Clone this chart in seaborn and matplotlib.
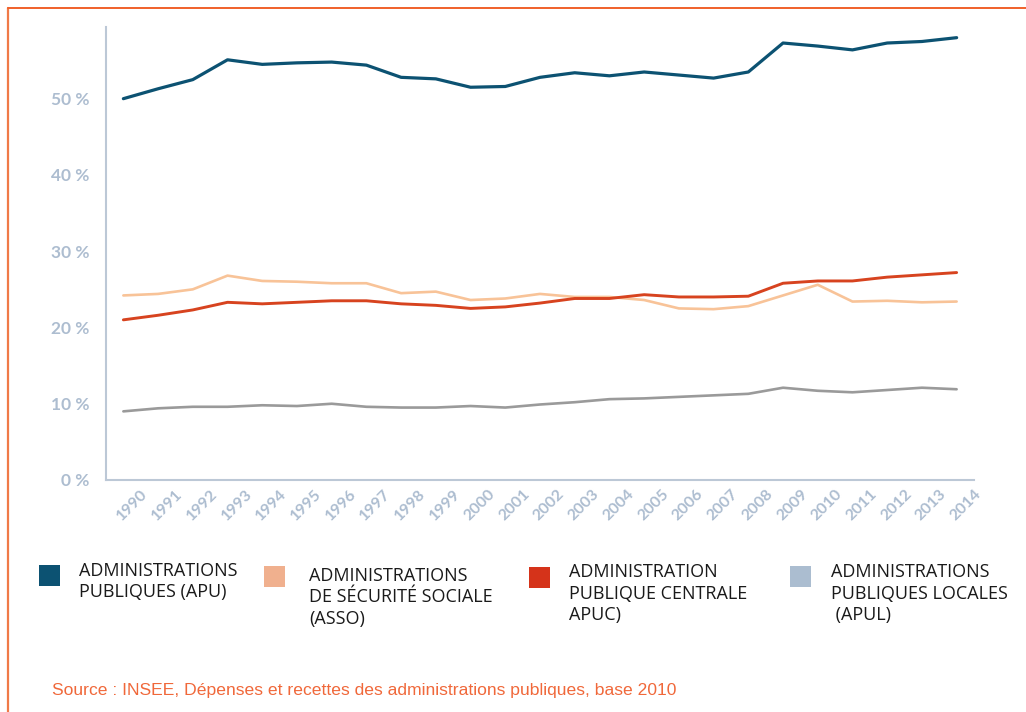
import matplotlib
matplotlib.use("Agg")
import matplotlib.pyplot as plt
from matplotlib.lines import Line2D
from matplotlib.patches import Rectangle
import seaborn as sns
import pandas as pd

years = list(range(1990, 2015))
apu = [50.0, 51.3, 52.5, 55.1, 54.5, 54.7, 54.8, 54.4, 52.8, 52.6, 51.5, 51.6, 52.8,
       53.4, 53.0, 53.5, 53.1, 52.7, 53.5, 57.3, 56.9, 56.4, 57.3, 57.5, 58.0]
asso = [24.2, 24.4, 25.0, 26.8, 26.1, 26.0, 25.8, 25.8, 24.5, 24.7, 23.6, 23.8, 24.4,
        24.0, 24.0, 23.6, 22.5, 22.4, 22.8, 24.2, 25.6, 23.4, 23.5, 23.3, 23.4]
apuc = [21.0, 21.6, 22.3, 23.3, 23.1, 23.3, 23.5, 23.5, 23.1, 22.9, 22.5, 22.7, 23.2,
        23.8, 23.8, 24.3, 24.0, 24.0, 24.1, 25.8, 26.1, 26.1, 26.6, 26.9, 27.2]
apul = [9.0, 9.4, 9.6, 9.6, 9.8, 9.7, 10.0, 9.6, 9.5, 9.5, 9.7, 9.5, 9.9,
        10.2, 10.6, 10.7, 10.9, 11.1, 11.3, 12.1, 11.7, 11.5, 11.8, 12.1, 11.9]

series_keys = ["APU", "ASSO", "APUC", "APUL"]
legend_labels = [
    "ADMINISTRATIONS\nPUBLIQUES (APU)",
    "ADMINISTRATIONS\nDE SÉCURITÉ SOCIALE\n(ASSO)",
    "ADMINISTRATION\nPUBLIQUE CENTRALE\nAPUC)",
    "ADMINISTRATIONS\nPUBLIQUES LOCALES\n (APUL)",
]
y_ticks = [0, 10, 20, 30, 40, 50]
y_tick_labels = ["0 %", "10 %", "20 %", "30 %", "40 %", "50 %"]
source_text = "Source : INSEE, Dépenses et recettes des administrations publiques, base 2010"

line_colors = {"APU": "#0c5272", "ASSO": "#f8c398", "APUC": "#d7431f", "APUL": "#9a9a9a"}
square_colors = ["#0c5272", "#f0b08e", "#d5331a", "#abbdd0"]
line_widths = {"APU": 2.3, "ASSO": 1.9, "APUC": 2.1, "APUL": 1.9}

df = pd.DataFrame({
    "year": years * 4,
    "value": apu + asso + apuc + apul,
    "series": [k for k in series_keys for _ in years],
})

sns.set_theme(style="white")
plt.rcParams["font.family"] = ["Lato", "DejaVu Sans"]

W, H = 1026, 712
fig = plt.figure(figsize=(W / 100, H / 100), dpi=100)
ax = fig.add_axes([106 / W, 1 - 480 / H, (974 - 106) / W, (480 - 27) / H])

for key in series_keys:
    sns.lineplot(data=df[df["series"] == key], x="year", y="value", ax=ax,
                 color=line_colors[key], linewidth=line_widths[key], legend=False)

axis_col = "#bcc8d6"
label_col = "#adbdd0"
ax.set_xlim(1989.5, 2014.5)
ax.set_ylim(0, 59.4)
for s in ["top", "right"]:
    ax.spines[s].set_visible(False)
for s in ["left", "bottom"]:
    ax.spines[s].set_color(axis_col)
    ax.spines[s].set_linewidth(1.5)
ax.set_xlabel("")
ax.set_ylabel("")
ax.grid(False)

ax.set_yticks(y_ticks)
ax.set_yticklabels(y_tick_labels, color=label_col, fontsize=12.5, fontweight="bold")
ax.tick_params(axis="y", direction="in", length=15, width=1.3, color=axis_col, pad=12)

xt = [y + 0.5 for y in years]
ax.set_xticks(xt)
ax.set_xticklabels([str(y) for y in years], rotation=45, ha="right", va="top",
                   rotation_mode="anchor", color=label_col, fontsize=11.5, fontweight="bold")
ax.tick_params(axis="x", direction="in", length=9, width=1.3, color=axis_col, pad=5)

# legend (squares + text)
sq = [(39, 565), (264, 566), (529, 567), (790, 566)]
tx = [(79, 562), (309, 567), (569, 563), (831, 563)]
for (sx, sy), (lx, ly), col, lab in zip(sq, tx, square_colors, legend_labels):
    fig.add_artist(Rectangle((sx / W, 1 - (sy + 21) / H), 21 / W, 21 / H,
                             transform=fig.transFigure, facecolor=col, edgecolor="none"))
    fig.text(lx / W, 1 - ly / H, lab, ha="left", va="top", fontsize=13,
             color="#1a1a1a", linespacing=1.25, family=["Open Sans", "DejaVu Sans"])

fig.text(52 / W, 1 - 690 / H, source_text, ha="left", va="center", fontsize=12.6,
         color="#f0683a", family=["Liberation Sans", "DejaVu Sans"])

# frame lines
frame_col = "#f07a48"
fig.add_artist(Line2D([8 / W, 8 / W], [0, 1 - 8 / H], transform=fig.transFigure,
                      color=frame_col, linewidth=1.6))
fig.add_artist(Line2D([8 / W, 1], [1 - 8 / H, 1 - 8 / H], transform=fig.transFigure,
                      color="#f0602a", linewidth=1.4))

fig.savefig("out.png", dpi=100)
